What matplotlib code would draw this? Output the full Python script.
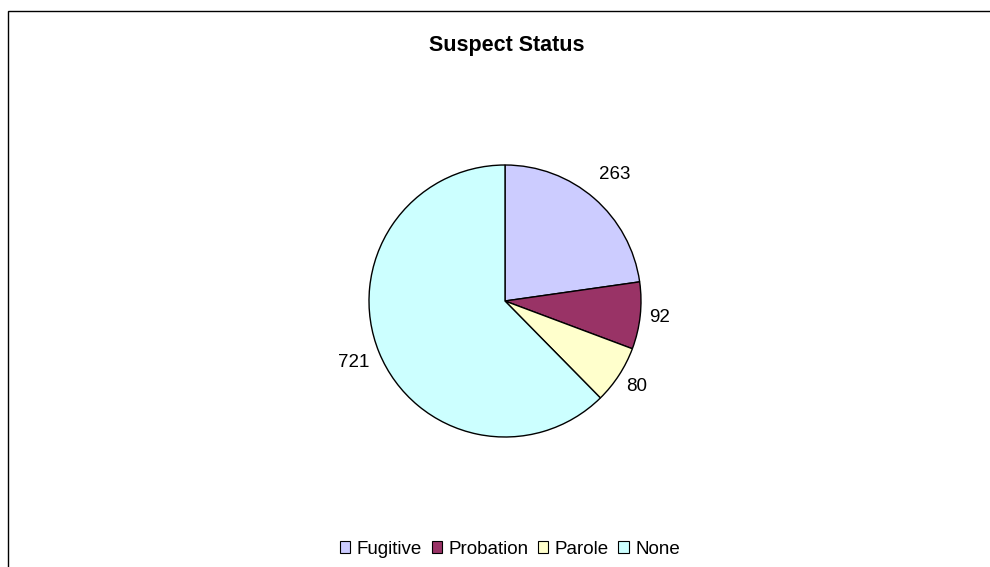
import matplotlib
matplotlib.use("Agg")
import matplotlib.pyplot as plt
from matplotlib.patches import Patch, Rectangle
import numpy as np

categories = ["Fugitive", "Probation", "Parole", "None"]
values = [263, 92, 80, 721]
colors = ["#CCCCFF", "#993366", "#FFFFCC", "#CCFFFF"]
title = "Suspect Status"

plt.rcParams['font.family'] = ['Liberation Sans', 'DejaVu Sans']

W, H = 990, 567
fig = plt.figure(figsize=(W/100, H/100), dpi=100)
fig.patch.set_facecolor("white")

# outer chart frame (cut at right/bottom)
fig.add_artist(Rectangle((8/W, -0.1), 1.2, (H-11)/H + 0.1, transform=fig.transFigure,
                         fill=False, edgecolor="black", linewidth=1.0))

cx, cy, r = 505, 301, 136
ax = fig.add_axes([(cx-r)/W, (H-cy-r)/H, 2*r/W, 2*r/H])
wedges, texts = ax.pie(values, colors=colors, startangle=90, counterclock=False,
                       labels=[str(v) for v in values], labeldistance=1.18,
                       wedgeprops=dict(edgecolor="black", linewidth=1.0),
                       textprops=dict(fontsize=13.5))
label_dist = [1.23, 1.14, 1.15, 1.2]
for w, t, d in zip(wedges, texts, label_dist):
    th = np.deg2rad((w.theta1 + w.theta2) / 2)
    t.set_position((d*np.cos(th), d*np.sin(th)))
    t.set_ha("center")
    t.set_va("center")
    t.set_clip_on(False)
ax.set_xlim(-1, 1)
ax.set_ylim(-1, 1)
ax.set_aspect("equal")
ax.axis("off")

fig.text(507/W, 1-45/H, title, ha="center", va="center", fontsize=15.5, fontweight="bold")

handles = [Patch(facecolor=c, edgecolor="black", linewidth=0.8) for c in colors]
fig.legend(handles, categories, loc="center", bbox_to_anchor=(510/W, 1-549/H), ncol=4,
           frameon=False, fontsize=13.5, handlelength=0.55, handleheight=0.55,
           handletextpad=0.35, columnspacing=0.5, borderpad=0)

fig.savefig("out.png", dpi=100)
